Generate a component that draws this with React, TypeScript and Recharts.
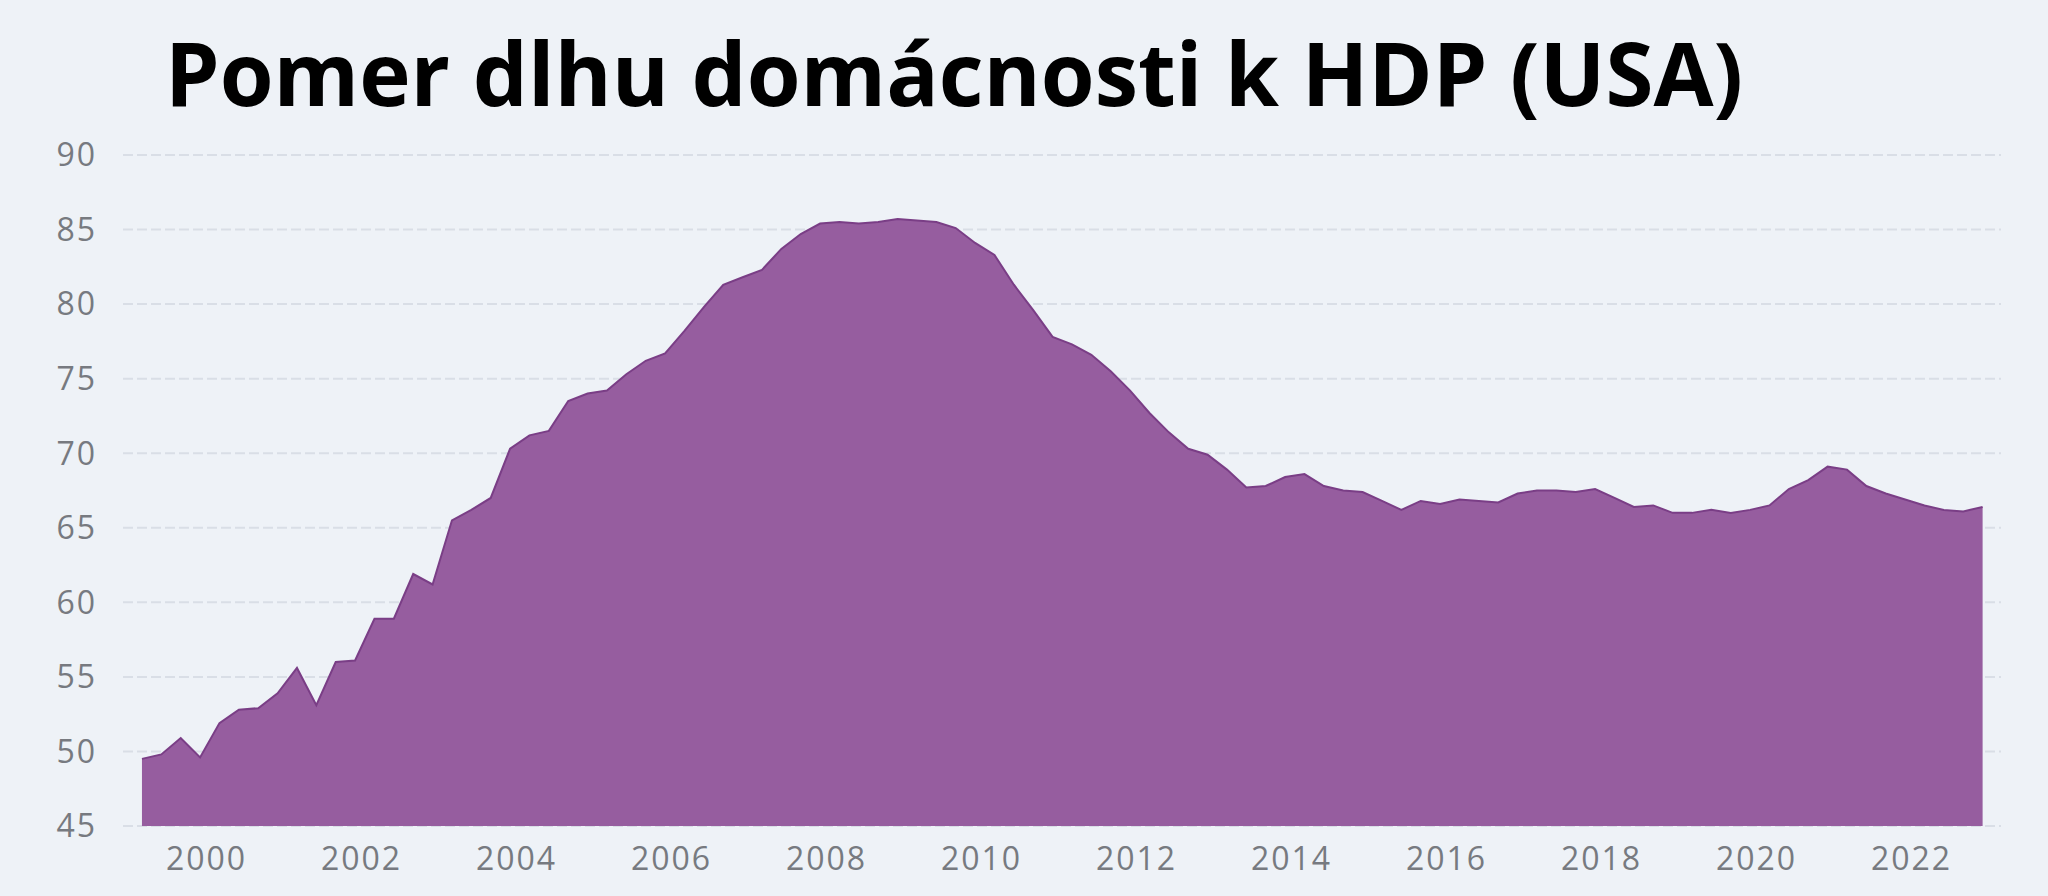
import React from "react";
import { AreaChart, Area, XAxis, YAxis, CartesianGrid } from "recharts";

// quarterly observations, Mar 1999 .. Dec 2022
const QUARTERS = [
  "1999Q1", "1999Q2", "1999Q3", "1999Q4",
  "2000Q1", "2000Q2", "2000Q3", "2000Q4",
  "2001Q1", "2001Q2", "2001Q3", "2001Q4",
  "2002Q1", "2002Q2", "2002Q3", "2002Q4",
  "2003Q1", "2003Q2", "2003Q3", "2003Q4",
  "2004Q1", "2004Q2", "2004Q3", "2004Q4",
  "2005Q1", "2005Q2", "2005Q3", "2005Q4",
  "2006Q1", "2006Q2", "2006Q3", "2006Q4",
  "2007Q1", "2007Q2", "2007Q3", "2007Q4",
  "2008Q1", "2008Q2", "2008Q3", "2008Q4",
  "2009Q1", "2009Q2", "2009Q3", "2009Q4",
  "2010Q1", "2010Q2", "2010Q3", "2010Q4",
  "2011Q1", "2011Q2", "2011Q3", "2011Q4",
  "2012Q1", "2012Q2", "2012Q3", "2012Q4",
  "2013Q1", "2013Q2", "2013Q3", "2013Q4",
  "2014Q1", "2014Q2", "2014Q3", "2014Q4",
  "2015Q1", "2015Q2", "2015Q3", "2015Q4",
  "2016Q1", "2016Q2", "2016Q3", "2016Q4",
  "2017Q1", "2017Q2", "2017Q3", "2017Q4",
  "2018Q1", "2018Q2", "2018Q3", "2018Q4",
  "2019Q1", "2019Q2", "2019Q3", "2019Q4",
  "2020Q1", "2020Q2", "2020Q3", "2020Q4",
  "2021Q1", "2021Q2", "2021Q3", "2021Q4",
  "2022Q1", "2022Q2", "2022Q3", "2022Q4",
];

// household debt, % of GDP
const DEBT_TO_GDP = [
  49.5, 49.8, 50.9, 49.6,
  51.9, 52.8, 52.9, 53.9,
  55.6, 53.1, 56.0, 56.1,
  58.9, 58.9, 61.9, 61.2,
  65.5, 66.2, 67.0, 70.3,
  71.2, 71.5, 73.5, 74.0,
  74.2, 75.3, 76.2, 76.7,
  78.2, 79.8, 81.3, 81.8,
  82.3, 83.7, 84.7, 85.4,
  85.5, 85.4, 85.5, 85.7,
  85.6, 85.5, 85.1, 84.1,
  83.3, 81.3, 79.6, 77.8,
  77.3, 76.6, 75.5, 74.2,
  72.7, 71.4, 70.3, 69.9,
  68.9, 67.7, 67.8, 68.4,
  68.6, 67.8, 67.5, 67.4,
  66.8, 66.2, 66.8, 66.6,
  66.9, 66.8, 66.7, 67.3,
  67.5, 67.5, 67.4, 67.6,
  67.0, 66.4, 66.5, 66.0,
  66.0, 66.2, 66.0, 66.2,
  66.5, 67.6, 68.2, 69.1,
  68.9, 67.8, 67.3, 66.9,
  66.5, 66.2, 66.1, 66.4,
];

const YEAR_TICKS = [2000, 2002, 2004, 2006, 2008, 2010, 2012, 2014, 2016, 2018, 2020, 2022];
const VALUE_TICKS = [45, 50, 55, 60, 65, 70, 75, 80, 85, 90];

const TITLE = "Pomer dlhu domácnosti k HDP (USA)";

// quarter label -> fractional year (last month of the quarter)
const toYear = (q: string) => Number(q.slice(0, 4)) + (Number(q.slice(5)) * 3 - 1) / 12;

const data = QUARTERS.map((q, i) => ({ t: toYear(q), value: DEBT_TO_GDP[i] }));

const tickStyle = {
  fill: "#777a80",
  fontSize: 32,
  fontFamily: "'Open Sans', sans-serif",
  letterSpacing: 2,
};

export default function App() {
  return (
    <div
      style={{
        position: "fixed",
        left: 0,
        top: 0,
        width: 2048,
        height: 896,
        background: "#eef2f7",
        overflow: "hidden",
      }}
    >
      <svg
        width={2048}
        height={140}
        style={{ position: "absolute", left: 0, top: 0 }}
      >
        <text
          x={165}
          y={106}
          fontFamily="'Open Sans', 'Noto Sans', sans-serif"
          fontWeight={700}
          fontSize={88}
          fill="#000"
          textLength={1578}
          lengthAdjust="spacingAndGlyphs"
        >
          {TITLE}
        </text>
      </svg>
      <AreaChart
        width={2048}
        height={896}
        data={data}
        margin={{ top: 155, right: 47, bottom: 0, left: 0 }}
      >
        <CartesianGrid
          vertical={false}
          stroke="#d9dee6"
          strokeWidth={2}
          strokeDasharray="10 4"
        />
        <XAxis
          dataKey="t"
          type="number"
          domain={[1998.922, 2023.154]}
          ticks={YEAR_TICKS}
          allowDataOverflow
          height={70}
          axisLine={false}
          tickLine={false}
          tickSize={0}
          tickMargin={21}
          tick={tickStyle}
          tickFormatter={(v) => String(v)}
        />
        <YAxis
          type="number"
          domain={[45, 90]}
          ticks={VALUE_TICKS}
          allowDataOverflow
          width={123}
          axisLine={false}
          tickLine={false}
          tickSize={0}
          tickMargin={26}
          tick={tickStyle}
        />
        <Area
          type="linear"
          dataKey="value"
          stroke="#7a3e86"
          strokeWidth={2}
          fill="#965d9f"
          fillOpacity={1}
          isAnimationActive={false}
          dot={false}
          activeDot={false}
        />
      </AreaChart>
    </div>
  );
}
